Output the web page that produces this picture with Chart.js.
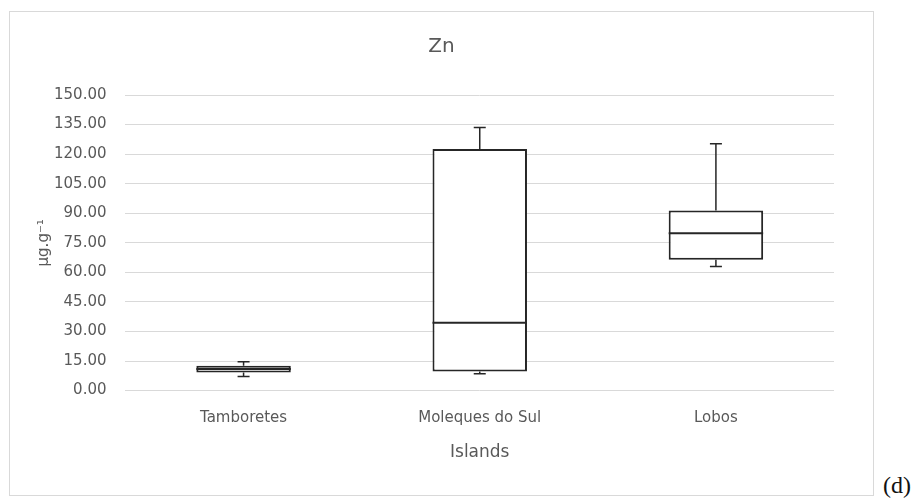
<!DOCTYPE html>
<html>
<head>
<meta charset="utf-8">
<script src="https://cdn.jsdelivr.net/npm/chart.js@4.4.0/dist/chart.umd.min.js"></script>
<style>
  html, body { margin: 0; padding: 0; background: #fff; }
  body { width: 917px; height: 501px; position: relative; overflow: hidden; }
  #frame {
    position: absolute; left: 9px; top: 11px; width: 863px; height: 483px;
    border: 1px solid #d9d9d9; box-sizing: content-box;
  }
  #frame canvas { display: block; }
  #tag {
    position: absolute; left: 883px; top: 472px;
    font-family: "Liberation Serif", "DejaVu Serif", serif; font-size: 24px; color: #111;
  }
</style>
</head>
<body>
<div id="frame"><canvas id="znChart" width="863" height="483"></canvas></div>
<div id="tag">(d)</div>
<script>
var islands = ["Tamboretes", "Moleques do Sul", "Lobos"];
var minVals = [7.2, 8.5, 63.0];
var q1Vals = [9.2, 9.7, 66.4];
var medianVals = [11.0, 34.4, 79.9];
var q3Vals = [12.6, 122.6, 91.4];
var maxVals = [14.7, 133.5, 125.3];
var chartTitle = "Zn";

(function () {
  var lineColor = "#262626";
  var textColor = "#595959";
  var gridColor = "#d9d9d9";
  var font = "'DejaVu Sans', 'Open Sans', sans-serif";

  var boxes = islands.map(function (_, i) {
    return [q1Vals[i], q3Vals[i]];
  });

  // whiskers and median line, placed with the chart's own scales
  var whiskerPlugin = {
    id: "whiskers",
    afterDatasetsDraw: function (chart) {
      var ctx = chart.ctx;
      var y = chart.scales.y;
      var meta = chart.getDatasetMeta(0);
      ctx.save();
      ctx.strokeStyle = lineColor;
      meta.data.forEach(function (bar, i) {
        var x = bar.x;
        var half = bar.width / 2;
        var cap = 6;
        var yMin = y.getPixelForValue(minVals[i]);
        var yQ1 = y.getPixelForValue(q1Vals[i]);
        var yMed = y.getPixelForValue(medianVals[i]);
        var yQ3 = y.getPixelForValue(q3Vals[i]);
        var yMax = y.getPixelForValue(maxVals[i]);
        ctx.lineWidth = 1.5;
        ctx.beginPath();
        ctx.moveTo(x, yQ3); ctx.lineTo(x, yMax);
        ctx.moveTo(x - cap, yMax); ctx.lineTo(x + cap, yMax);
        ctx.moveTo(x, yQ1); ctx.lineTo(x, yMin);
        ctx.moveTo(x - cap, yMin); ctx.lineTo(x + cap, yMin);
        ctx.stroke();
        ctx.lineWidth = 2;
        ctx.beginPath();
        ctx.moveTo(x - half, yMed); ctx.lineTo(x + half, yMed);
        ctx.stroke();
      });
      ctx.restore();
    },
  };

  // title centred on the whole frame, not on the padded area
  var frameTitle = {
    id: "frameTitle",
    afterDraw: function (chart) {
      var ctx = chart.ctx;
      ctx.save();
      ctx.fillStyle = textColor;
      ctx.font = "20px " + font;
      ctx.textAlign = "center";
      ctx.textBaseline = "middle";
      ctx.fillText(chartTitle, chart.width / 2, 35);
      ctx.restore();
    },
  };

  new Chart(document.getElementById("znChart"), {
    type: "bar",
    data: {
      labels: islands,
      datasets: [
        {
          label: chartTitle,
          data: boxes,
          backgroundColor: "#ffffff",
          borderColor: lineColor,
          borderWidth: 2,
          borderSkipped: false,
          barPercentage: 0.4,
          categoryPercentage: 1,
        },
      ],
    },
    options: {
      responsive: false,
      animation: false,
      layout: { padding: { left: 12, right: 39, top: 83, bottom: 26 } },
      plugins: {
        legend: { display: false },
        tooltip: { enabled: false },
        title: { display: false },
      },
      scales: {
        x: {
          grid: { display: false, drawTicks: false },
          border: { display: false },
          ticks: { color: textColor, font: { family: font, size: 15 }, padding: 19 },
          title: {
            display: true,
            text: "Islands",
            color: textColor,
            font: { family: font, size: 17 },
            padding: { top: -4, bottom: 6 },
          },
        },
        y: {
          min: 0,
          max: 150,
          grid: { color: gridColor, lineWidth: 1, drawTicks: false },
          border: { display: false },
          ticks: {
            stepSize: 15,
            color: textColor,
            font: { family: font, size: 15 },
            padding: 19,
            callback: function (v) { return v.toFixed(2); },
          },
          title: {
            display: true,
            text: "µg.g⁻¹",
            color: textColor,
            font: { family: font, size: 15 },
            padding: { top: 13, bottom: -18 },
          },
        },
      },
    },
    plugins: [whiskerPlugin, frameTitle],
  });
})();
</script>
</body>
</html>
